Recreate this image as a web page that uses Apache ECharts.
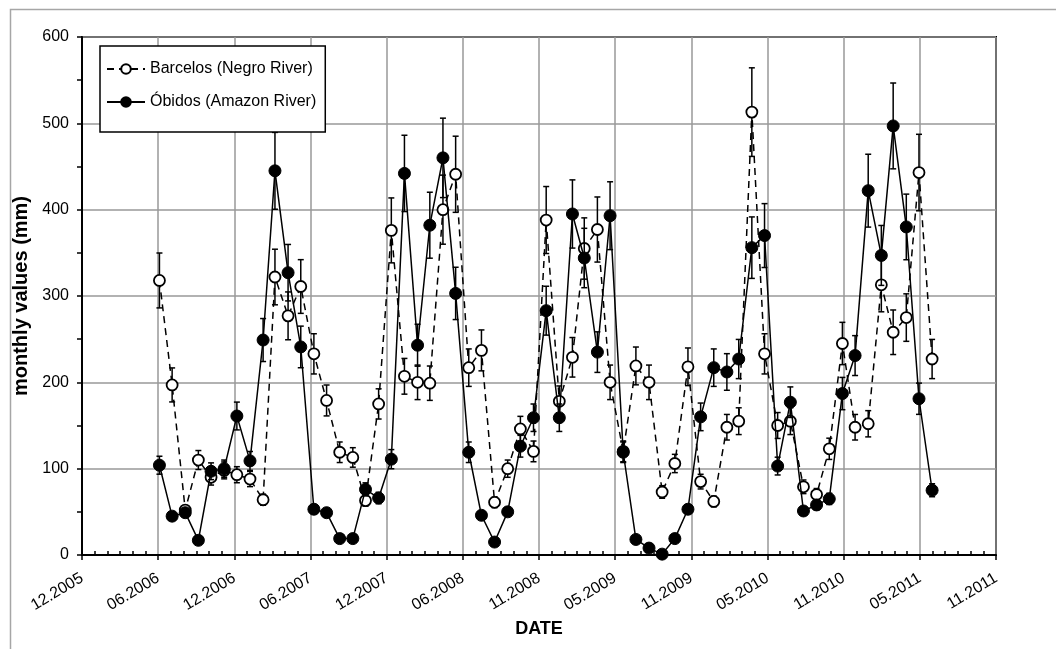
<!DOCTYPE html>
<html>
<head>
<meta charset="utf-8">
<script src="https://cdn.jsdelivr.net/npm/echarts@6/dist/echarts.min.js"></script>
<style>html,body{margin:0;padding:0;background:#fff}#c{width:1056px;height:649px}</style>
</head>
<body>
<div id="c"></div>
<script>
// Months of the observations (monthly values, plotted mid-month)
const months = [
 "2006-06","2006-07","2006-08","2006-09","2006-10","2006-11","2006-12",
 "2007-01","2007-02","2007-03","2007-04","2007-05","2007-06","2007-07","2007-08","2007-09","2007-10","2007-11","2007-12",
 "2008-01","2008-02","2008-03","2008-04","2008-05","2008-06","2008-07","2008-08","2008-09","2008-10","2008-11","2008-12",
 "2009-01","2009-02","2009-03","2009-04","2009-05","2009-06","2009-07","2009-08","2009-09","2009-10","2009-11","2009-12",
 "2010-01","2010-02","2010-03","2010-04","2010-05","2010-06","2010-07","2010-08","2010-09","2010-10","2010-11","2010-12",
 "2011-01","2011-02","2011-03","2011-04","2011-05","2011-06"
];
// Barcelos (Negro River), mm
const barcelos = [
 318,197,52,110,90,98,93,
 88,64,322,277,311,233,179,119,113,63,175,376,
 207,200,199,400,441,217,237,61,100,146,120,388,
 178,229,355,377,200,120,219,200,73,106,218,85,
 62,148,155,513,233,150,155,79,70,123,245,148,
 152,313,258,275,443,227
];
// Óbidos (Amazon River), mm
const obidos = [
 104,45,49,17,97,100,161,
 109,249,445,327,241,53,49,19,19,76,66,111,
 442,243,382,460,303,119,46,15,50,126,159,283,
 159,395,344,235,393,119,18,8,1,19,53,160,
 217,212,227,356,370,103,177,51,58,65,187,231,
 422,347,497,380,181,75
];
const seriesNames = ["Barcelos (Negro River)", "Óbidos (Amazon River)"];
const ERROR_FRACTION = 0.10;          // percentage error bars (±10 %)
// x axis: date serial numbers (days since 1899-12-30)
const xMin = 38700, xMax = 40860, xStep = 180;
const yMin = 0, yMax = 600, yStep = 100;

const EPOCH_OFFSET = 25569;
function serialOf(ym) {
  const [y, m] = ym.split("-").map(Number);
  return Date.UTC(y, m - 1, 15) / 86400000 + EPOCH_OFFSET;
}
function fmtSerial(v) {
  const d = new Date((v - EPOCH_OFFSET) * 86400000);
  const mm = String(d.getUTCMonth() + 1).padStart(2, "0");
  return mm + "." + d.getUTCFullYear();
}
const xs = months.map(serialOf);
const dataB = xs.map((x, i) => [x, barcelos[i]]);
const dataO = xs.map((x, i) => [x, obidos[i]]);

function errRender(params, api) {
  const x = api.value(0), v = api.value(1);
  const lo = api.coord([x, v * (1 - ERROR_FRACTION)]);
  const hi = api.coord([x, v * (1 + ERROR_FRACTION)]);
  const w = 3;
  const st = { stroke: "#000", lineWidth: 1.5 };
  return {
    type: "group",
    children: [
      { type: "line", shape: { x1: lo[0], y1: lo[1], x2: hi[0], y2: hi[1] }, style: st },
      { type: "line", shape: { x1: lo[0] - w, y1: lo[1], x2: lo[0] + w, y2: lo[1] }, style: st },
      { type: "line", shape: { x1: hi[0] - w, y1: hi[1], x2: hi[0] + w, y2: hi[1] }, style: st }
    ]
  };
}

const FONT = "'Liberation Sans', Arial, sans-serif";
const chart = echarts.init(document.getElementById("c"), null, { renderer: "canvas" });
chart.setOption({
  animation: false,
  backgroundColor: "#fff",
  textStyle: { fontFamily: FONT, color: "#000" },
  graphic: [{
    type: "rect", left: 8, top: 7, z: -10,
    shape: { width: 1100, height: 700 },
    style: { fill: "none", stroke: "#a6a6a6", lineWidth: 1.5 }
  }],
  grid: {
    left: 82, top: 37, width: 914, height: 518,
    show: true, borderColor: "#000", borderWidth: 2, backgroundColor: "transparent",
    containLabel: false, outerBoundsMode: "none"
  },
  legend: {
    data: seriesNames,
    orient: "vertical",
    left: 100, top: 46,
    padding: [15, 9, 22, 6],
    itemGap: 17,
    itemWidth: 38, itemHeight: 12,
    backgroundColor: "#fff",
    borderColor: "#000", borderWidth: 1.5,
    textStyle: { fontFamily: FONT, fontSize: 16, color: "#000" },
    z: 10
  },
  xAxis: [{
    type: "value", min: xMin, max: xMax, interval: xStep,
    name: "DATE", nameLocation: "middle", nameGap: 63,
    nameTextStyle: { fontFamily: FONT, fontSize: 18, fontWeight: "bold", color: "#000" },
    axisLine: { show: true, onZero: false, lineStyle: { color: "#000", width: 2 } },
    axisTick: { show: true, inside: false, length: 5, lineStyle: { color: "#000", width: 1.5 } },
    minorTick: { show: false },
    splitLine: { show: true, lineStyle: { color: "#999", width: 1.5 } },
    axisLabel: {
      rotate: 31, margin: 22, fontSize: 16, color: "#000", fontFamily: FONT,
      formatter: fmtSerial, showMinLabel: true, showMaxLabel: true, hideOverlap: false
    }
  }, {
    type: "value", min: xMin, max: xMax, interval: xStep, position: "bottom", offset: 0,
    axisLine: { show: false, onZero: false },
    axisTick: { show: false, inside: true, length: 5 },
    minorTick: { show: true, splitNumber: 6, length: 4, lineStyle: { color: "#000", width: 1.5 } },
    splitLine: { show: false },
    axisLabel: { show: false }
  }],
  yAxis: {
    type: "value", min: yMin, max: yMax, interval: yStep,
    name: "monthly values (mm)", nameLocation: "middle", nameGap: 46,
    nameTextStyle: { fontFamily: FONT, fontSize: 20, fontWeight: "bold", color: "#000" },
    axisLine: { show: true, onZero: false, lineStyle: { color: "#000", width: 2 } },
    axisTick: { show: true, inside: false, length: 5, lineStyle: { color: "#000", width: 1.5 } },
    minorTick: { show: true, splitNumber: 2, length: 5, lineStyle: { color: "#000", width: 1.5 } },
    splitLine: { show: true, lineStyle: { color: "#999", width: 1.5 } },
    axisLabel: { margin: 13, fontSize: 16, color: "#000", fontFamily: FONT }
  },
  series: [
    {
      type: "custom", name: "errB", renderItem: errRender, data: dataB,
      encode: { x: 0, y: 1 }, z: 2, silent: true
    },
    {
      type: "line", name: seriesNames[0], data: dataB, z: 3,
      symbol: "circle", symbolSize: 11, showAllSymbol: true,
      lineStyle: { color: "#000", width: 1.5, type: [7, 5] },
      itemStyle: { color: "#fff", borderColor: "#000", borderWidth: 1.8 }
    },
    {
      type: "custom", name: "errO", renderItem: errRender, data: dataO,
      encode: { x: 0, y: 1 }, z: 4, silent: true
    },
    {
      type: "line", name: seriesNames[1], data: dataO, z: 5,
      symbol: "circle", symbolSize: 12, showAllSymbol: true,
      lineStyle: { color: "#000", width: 1.5, type: "solid" },
      itemStyle: { color: "#000", borderColor: "#000", borderWidth: 1 }
    }
  ]
});
</script>
</body>
</html>
